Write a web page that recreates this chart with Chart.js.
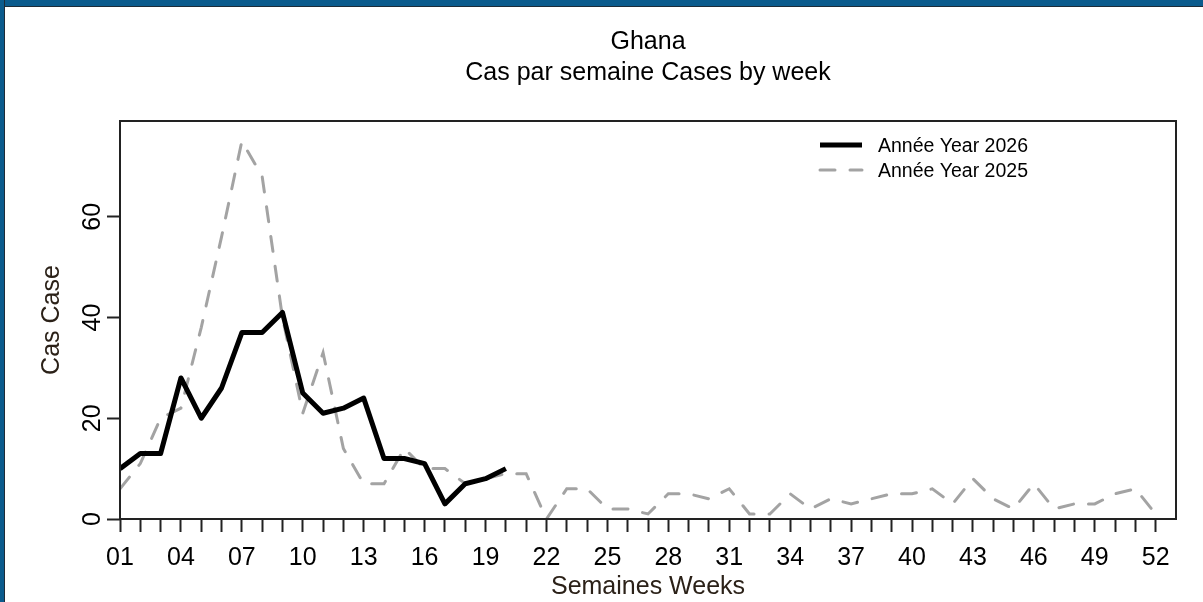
<!DOCTYPE html>
<html>
<head>
<meta charset="utf-8">
<script src="https://cdn.jsdelivr.net/npm/chart.js@4.4.1/dist/chart.umd.min.js"></script>
<style>
  html, body { margin: 0; padding: 0; background: #fff; overflow: hidden; }
  #wrap { position: absolute; left: 0; top: 0; width: 1203px; height: 602px; }
  #frameTop { position: absolute; left: 0; top: 0; width: 1203px; height: 6px; background: #0b5b8d; border-bottom: 1px solid #1d2c38; }
  #frameLeft { position: absolute; left: 0; top: 0; width: 4px; height: 602px; background: #0b5b8d; border-right: 1px solid #1d2c38; }
</style>
</head>
<body>
<div id="wrap"><canvas id="casesChart" width="1203" height="602"></canvas></div>
<div id="frameTop"></div>
<div id="frameLeft"></div>
<script>
// Weeks of the year (x categories)
const weeks = Array.from({ length: 52 }, (_, i) => i + 1);
// Cases per week
const cases2026 = [10, 13, 13, 28, 20, 26, 37, 37, 41, 25, 21, 22, 24, 12, 12, 11, 3, 7, 8, 10];
const cases2025 = [6, 11, 20, 22, 38, 56, 75, 68, 40, 21, 33, 14, 7, 7, 14, 10, 10, 7, 8, 9,
                   9, 0, 6, 6, 2, 2, 1, 5, 5, 4, 6, 1, 1, 5, 2, 4, 3, 4, 5, 5,
                   6, 3, 8, 4, 2, 7, 2, 3, 3, 5, 6, 1];
const yTickValues = [0, 20, 40, 60];
const labelEvery = 3;
const titleLines = ['Ghana', 'Cas par semaine Cases by week'];

const FONT = '"Liberation Sans", Arial, sans-serif';
const TEXT = '#000';

function toPoints(values) {
    return values.map((v, i) => ({ x: weeks[i], y: v }));
}

// Title centred over the plotting region (not the whole canvas)
const plotTitle = {
    id: 'plotTitle',
    afterDraw(chart) {
        const { ctx, chartArea: a } = chart;
        ctx.save();
        ctx.fillStyle = TEXT;
        ctx.font = '25px ' + FONT;
        ctx.textAlign = 'center';
        ctx.textBaseline = 'middle';
        const cx = (a.left + a.right) / 2;
        titleLines.forEach((t, i) => ctx.fillText(t, cx, 42 + i * 31));
        ctx.restore();
    }
};

// Box around the plotting region
const plotBox = {
    id: 'plotBox',
    afterDatasetsDraw(chart) {
        const { ctx, chartArea: a } = chart;
        ctx.save();
        ctx.strokeStyle = '#222';
        ctx.lineWidth = 2;
        ctx.strokeRect(a.left, a.top, a.right - a.left, a.bottom - a.top);
        ctx.restore();
    }
};

// Vertical y tick labels, placed on the scale's own tick positions
const verticalYLabels = {
    id: 'verticalYLabels',
    afterDraw(chart) {
        const { ctx } = chart;
        const scale = chart.scales.y;
        ctx.save();
        ctx.fillStyle = TEXT;
        ctx.font = '25px ' + FONT;
        ctx.textAlign = 'center';
        ctx.textBaseline = 'middle';
        yTickValues.forEach(v => {
            const y = scale.getPixelForValue(v);
            ctx.save();
            ctx.translate(scale.right - 27, y);
            ctx.rotate(-Math.PI / 2);
            ctx.fillText(String(v), 0, 0);
            ctx.restore();
        });
        ctx.restore();
    }
};

// Legend inside the top right of the plot
const cornerLegend = {
    id: 'cornerLegend',
    afterDraw(chart) {
        const { ctx, chartArea } = chart;
        const x0 = chartArea.left + 700;
        chart.data.datasets.forEach((ds, i) => {
            const y = chartArea.top + 24 + i * 25;
            ctx.save();
            ctx.strokeStyle = ds.borderColor;
            ctx.lineWidth = ds.borderWidth;
            ctx.lineCap = ds.borderCapStyle || 'butt';
            ctx.setLineDash(ds.borderDash || []);
            ctx.beginPath();
            ctx.moveTo(x0, y);
            ctx.lineTo(x0 + 42, y);
            ctx.stroke();
            ctx.setLineDash([]);
            ctx.fillStyle = TEXT;
            ctx.font = '19.5px ' + FONT;
            ctx.textBaseline = 'middle';
            ctx.fillText(ds.label, x0 + 58, y + 2);
            ctx.restore();
        });
    }
};

const ctx = document.getElementById('casesChart').getContext('2d');
const chart = new Chart(ctx, {
    type: 'line',
    data: {
        datasets: [{
            label: 'Année Year 2026',
            data: toPoints(cases2026),
            borderColor: '#000',
            borderWidth: 5,
            borderJoinStyle: 'round',
            pointRadius: 0,
            tension: 0,
            order: 0
        }, {
            label: 'Année Year 2025',
            data: toPoints(cases2025),
            borderColor: '#a3a3a3',
            borderWidth: 3,
            borderDash: [15, 15],
            borderCapStyle: 'round',
            pointRadius: 0,
            tension: 0,
            order: 1
        }]
    },
    options: {
        responsive: false,
        animation: false,
        layout: { padding: { left: 0, right: 27, top: 121, bottom: 0 } },
        plugins: {
            legend: { display: false },
            tooltip: { enabled: false }
        },
        scales: {
            x: {
                type: 'linear',
                min: 1,
                max: 53,
                afterBuildTicks: scale => { scale.ticks = weeks.map(w => ({ value: w })); },
                afterFit: scale => { scale.height = 83; },
                border: { display: false },
                grid: { drawOnChartArea: false, drawTicks: true, tickLength: 13, tickColor: '#222', tickWidth: 2 },
                ticks: {
                    autoSkip: false,
                    maxRotation: 0,
                    padding: 11,
                    color: TEXT,
                    font: { family: FONT, size: 25 },
                    callback: v => ((v - 1) % labelEvery === 0 ? String(v).padStart(2, '0') : '')
                },
                title: {
                    display: true,
                    text: 'Semaines Weeks',
                    color: '#2b2118',
                    font: { family: FONT, size: 25 },
                    padding: { top: 0, bottom: 0 }
                }
            },
            y: {
                min: 0,
                max: 79,
                afterBuildTicks: scale => { scale.ticks = yTickValues.map(v => ({ value: v })); },
                afterFit: scale => { scale.width = 120; },
                border: { display: false },
                grid: { drawOnChartArea: false, drawTicks: true, tickLength: 13, tickColor: '#222', tickWidth: 2 },
                ticks: { display: false },
                title: {
                    display: true,
                    text: 'Cas Case',
                    color: '#2b2118',
                    font: { family: FONT, size: 25 },
                    padding: { top: 37, bottom: 0 }
                }
            }
        }
    },
    plugins: [plotTitle, plotBox, verticalYLabels, cornerLegend]
});
</script>
</body>
</html>
